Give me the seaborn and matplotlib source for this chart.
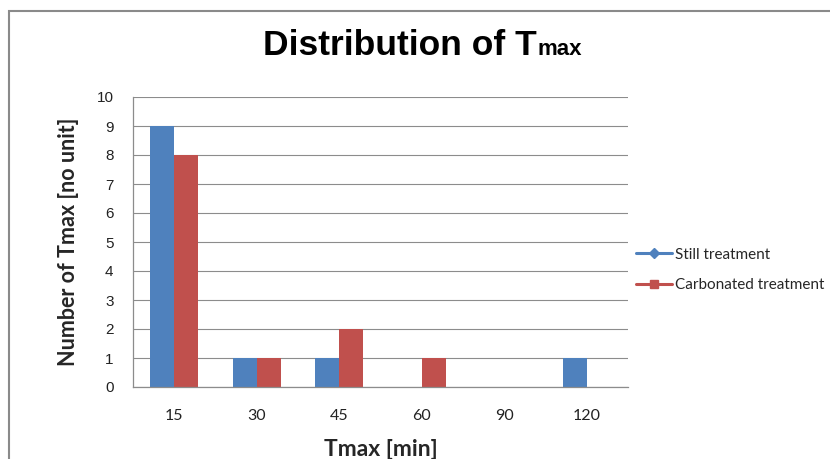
import matplotlib
matplotlib.use("Agg")
import matplotlib.pyplot as plt
import seaborn as sns
import pandas as pd
from matplotlib.lines import Line2D
from matplotlib.patches import Rectangle

categories = ["15", "30", "45", "60", "90", "120"]
still = [9, 1, 1, 0, 0, 1]
carbonated = [8, 1, 2, 1, 0, 0]
series_names = ["Still treatment", "Carbonated treatment"]
yticks = list(range(0, 11))
colors = ["#4F81BD", "#C0504D"]

df = pd.DataFrame({
    "Tmax": categories * 2,
    "count": still + carbonated,
    "series": [series_names[0]] * len(categories) + [series_names[1]] * len(categories),
})

sns.set_theme(style="white")
plt.rcParams["font.family"] = ["Liberation Sans", "DejaVu Sans"]

W, H = 830, 459
fig = plt.figure(figsize=(W / 100, H / 100), dpi=100)
fig.patch.set_facecolor("white")

# outer chart border
fig.patches.append(Rectangle((9 / W, -0.1), 1.2, 1 - 11 / H + 0.1, transform=fig.transFigure,
                             fill=False, edgecolor="#8a8a8a", linewidth=1.5))

ax = fig.add_axes([133 / W, 1 - 387 / H, (628 - 133) / W, (387 - 97) / H])
sns.barplot(data=df, x="Tmax", y="count", hue="series", order=categories,
            hue_order=series_names, palette=colors, width=0.58, saturation=1,
            ax=ax, legend=False, linewidth=0)

ax.set_ylim(0, 10)
ax.set_xlim(-0.5, len(categories) - 0.5)
ax.set_yticks(yticks)
ax.set_yticklabels([str(v) for v in yticks], fontsize=11, color="#222222")
ax.set_xticks(range(len(categories)))
ax.set_xticklabels(categories, fontsize=11.5, color="#222222", family=["Lato", "DejaVu Sans"])
ax.tick_params(axis="y", length=6, width=0.8, color="#8c8c8c", direction="out", pad=8)
ax.tick_params(axis="x", length=0, pad=16)
ax.yaxis.grid(True, color="#8c8c8c", linewidth=0.8)
ax.set_axisbelow(True)
for s in ["top", "right"]:
    ax.spines[s].set_visible(False)
for s in ["left", "bottom"]:
    ax.spines[s].set_color("#8c8c8c")
    ax.spines[s].set_linewidth(0.9)

ax.set_xlabel("Tmax [min]", fontsize=16.5, fontweight="bold", family=["Lato", "DejaVu Sans"], labelpad=11)
ax.set_ylabel("Number of Tmax [no unit]", fontsize=15.5, fontweight="bold", family=["Lato", "DejaVu Sans"], labelpad=13)

# title: "Distribution of T" + subscript-like "max"
t1 = fig.text(263 / W, 1 - 55 / H, "Distribution of T", fontsize=25.5, fontweight="bold",
              ha="left", va="baseline", color="black")
fig.canvas.draw()
bb = t1.get_window_extent()
fig.text((bb.x1 + 1) / W, 1 - 55 / H, "max", fontsize=16, fontweight="bold",
         ha="left", va="baseline", color="black")

handles = [Line2D([], [], color=colors[0], marker="D", markersize=5, linewidth=2.2),
           Line2D([], [], color=colors[1], marker="s", markersize=6, linewidth=2.2)]
fig.legend(handles, series_names, loc="center left", bbox_to_anchor=(622 / W, 1 - 270 / H),
           frameon=False, handlelength=2.4, handletextpad=0.2,
           labelspacing=1.1, prop={"family": ["Lato", "DejaVu Sans"], "size": 11})

fig.savefig("out.png", dpi=100, facecolor="white")
